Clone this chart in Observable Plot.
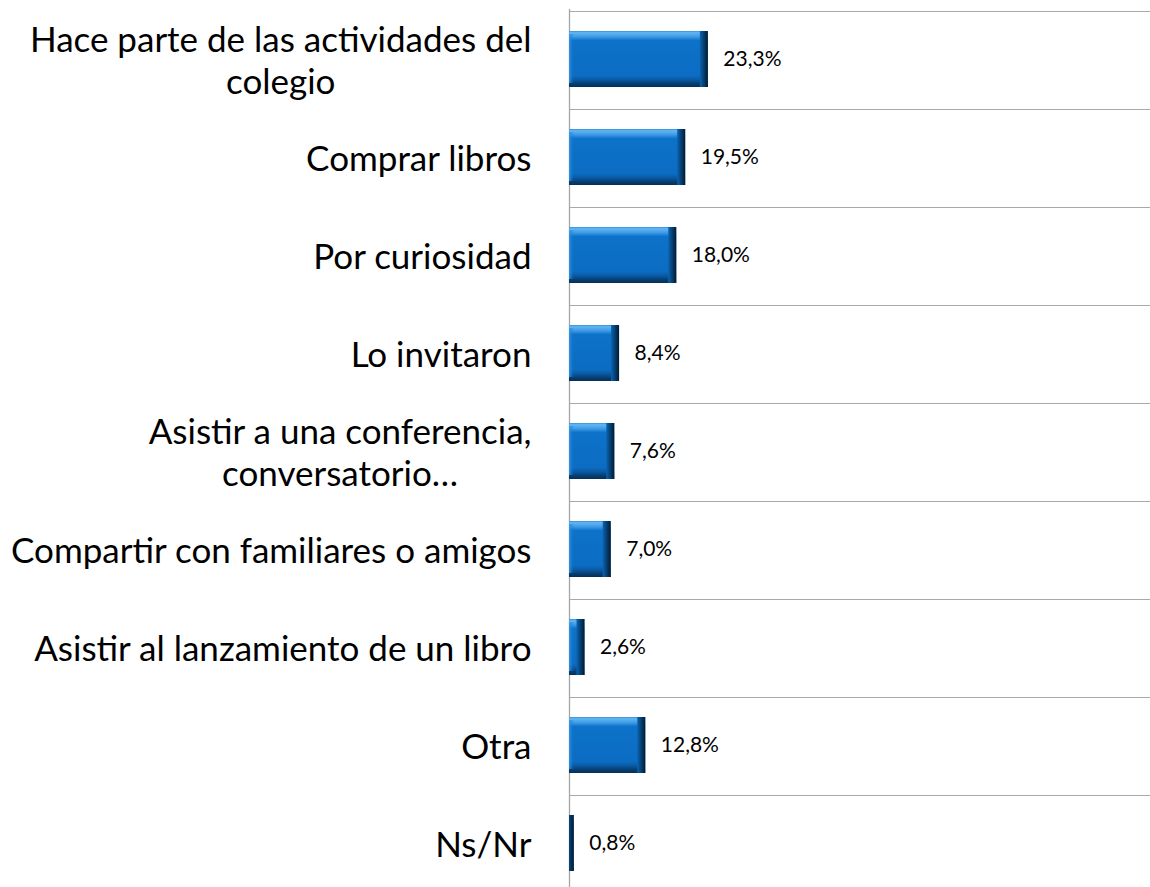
<!DOCTYPE html>
<html>
<head>
<meta charset="utf-8">
<script src="https://cdn.jsdelivr.net/npm/d3@7"></script>
<script src="https://cdn.jsdelivr.net/npm/@observablehq/plot@0.6"></script>
<style>
  html, body { margin: 0; padding: 0; background: #fff; }
  svg { display: block; }
</style>
</head>
<body>
<script>
const categories = [
  "Hace parte de las actividades del colegio",
  "Comprar libros",
  "Por curiosidad",
  "Lo invitaron",
  "Asistir a una conferencia, conversatorio…",
  "Compartir con familiares o amigos",
  "Asistir al lanzamiento de un libro",
  "Otra",
  "Ns/Nr"
];
const labelLines = [
  "Hace parte de las actividades del\ncolegio",
  "Comprar libros",
  "Por curiosidad",
  "Lo invitaron",
  "Asistir a una conferencia,\nconversatorio…",
  "Compartir con familiares o amigos",
  "Asistir al lanzamiento de un libro",
  "Otra",
  "Ns/Nr"
];
const values = [23.3, 19.5, 18.0, 8.4, 7.6, 7.0, 2.6, 12.8, 0.8];

const data = categories.map((c, i) => ({cat: c, label: labelLines[i], value: values[i]}));
const xMax = 97.5;

const W = 1150, H = 887, mTop = 9, mBottom = -7;
const step = (H - mBottom - mTop) / categories.length;
const barTop = 20, barBottom = 22;
const fmt = v => v.toFixed(1).replace(".", ",") + "%";

const chart = Plot.plot({
  width: W,
  height: H,
  marginLeft: 569,
  marginRight: 0,
  marginTop: mTop,
  marginBottom: mBottom,
  style: {fontFamily: "Lato, 'Open Sans', sans-serif", background: "#fff", color: "#000"},
  x: {domain: [0, xMax], axis: null},
  y: {domain: categories, axis: null, padding: 0},
  marks: [
    // horizontal separators at band tops
    Plot.barX(data, {y: "cat", x1: 0, x2: xMax, insetBottom: step - 1.3, fill: "#a6a6a6"}),
    // left axis line
    Plot.ruleX([0], {stroke: "#a6a6a6", strokeWidth: 1.3}),
    // base bars (vertical bevel gradient)
    Plot.barX(data, {y: "cat", x: "value", insetTop: barTop, insetBottom: barBottom, fill: "url(#bevelV)"}),
    // left light edge
    Plot.barX(data, {y: "cat", x1: 0, x2: 0, insetRight: -5, insetTop: barTop + 3, insetBottom: barBottom + 4, fill: "url(#bevelL)"}),
    // right bevel edge
    Plot.barX(data, {y: "cat", x1: "value", x2: "value", insetLeft: -8, insetTop: barTop, insetBottom: barBottom, fill: "url(#bevelH)", clip: true}),
    // value labels
    Plot.text(data, {y: "cat", x: "value", text: d => fmt(d.value), dx: 15, dy: -1, textAnchor: "start", fontSize: 21, fill: "#000"}),
    // category labels
    Plot.text(data, {y: "cat", frameAnchor: "left", text: "label", dx: -38, dy: -1, textAnchor: "end", fontSize: 35, lineHeight: 1.2, fill: "#000"})
  ]
});

const defs = d3.select(chart).insert("defs", ":first-child");
const gV = defs.append("linearGradient").attr("id", "bevelV").attr("x1", 0).attr("y1", 0).attr("x2", 0).attr("y2", 1);
[[0, "#2f8fdc"], [0.03, "#63b6f2"], [0.1, "#3f9be6"], [0.17, "#0d72c9"], [0.8, "#0b6cc2"], [0.87, "#0a5aa3"], [0.94, "#063e72"], [1, "#052f58"]]
  .forEach(([o, c]) => gV.append("stop").attr("offset", o).attr("stop-color", c));
const gH = defs.append("linearGradient").attr("id", "bevelH").attr("x1", 0).attr("y1", 0).attr("x2", 1).attr("y2", 0);
[[0, "#0a64b3"], [0.35, "#074a85"], [1, "#021a30"]]
  .forEach(([o, c]) => gH.append("stop").attr("offset", o).attr("stop-color", c));
const gL = defs.append("linearGradient").attr("id", "bevelL").attr("x1", 0).attr("y1", 0).attr("x2", 1).attr("y2", 0);
[[0, "#3a98e4", 0.9], [1, "#0d72c9", 0]]
  .forEach(([o, c, op]) => gL.append("stop").attr("offset", o).attr("stop-color", c).attr("stop-opacity", op));

document.body.append(chart);

// center lines of wrapped labels within their right-aligned block
chart.querySelectorAll("text").forEach(t => {
  const spans = t.querySelectorAll("tspan");
  if (spans.length > 1) {
    const widths = Array.from(spans, s => s.getComputedTextLength());
    const maxW = Math.max(...widths);
    t.setAttribute("text-anchor", "middle");
    t.style.textAnchor = "middle";
    const tr = t.getAttribute("transform") || "";
    t.setAttribute("transform", tr + ` translate(${-maxW / 2},0)`);
  }
});
</script>
</body>
</html>
